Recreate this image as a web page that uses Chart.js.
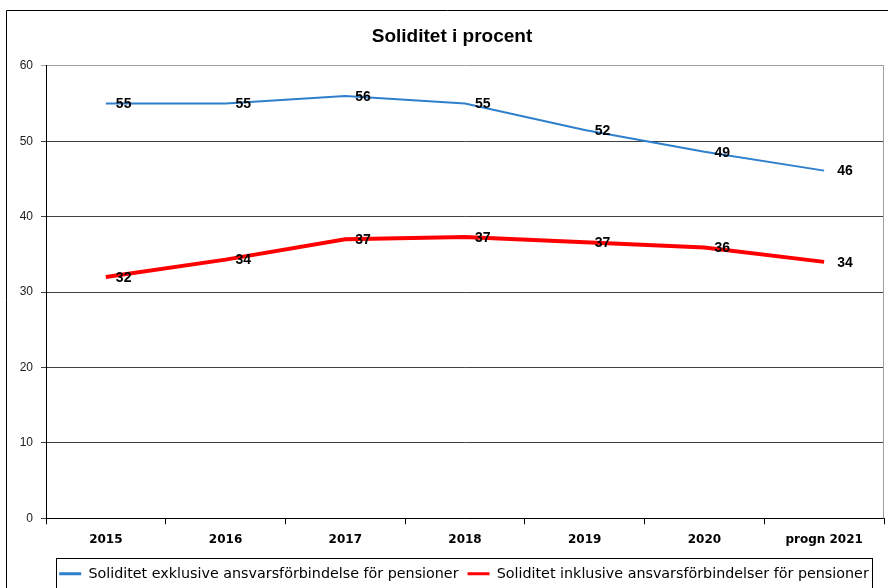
<!DOCTYPE html>
<html>
<head>
<meta charset="utf-8">
<script src="https://cdn.jsdelivr.net/npm/chart.js@4.4.1/dist/chart.umd.min.js"></script>
<style>
html,body{margin:0;padding:0;background:#fff;}
#wrap{position:absolute;left:0;top:0;width:888px;height:588px;}
</style>
</head>
<body>
<div id="wrap"><canvas id="c" width="888" height="588"></canvas></div>
<script>
const categories = ['2015','2016','2017','2018','2019','2020','progn 2021'];
const exklusive = [55.0, 55.0, 56.0, 55.0, 51.5, 48.6, 46.1];
const inklusive = [32.0, 34.3, 37.0, 37.3, 36.6, 35.9, 34.0];
const seriesNames = ['Soliditet exklusive ansvarsförbindelse för pensioner','Soliditet inklusive ansvarsförbindelser för pensioner'];
const yTicks = [0,10,20,30,40,50,60];
const titleText = 'Soliditet i procent';

const FONT = "'Liberation Sans', Arial, sans-serif";
const WIDE = "'DejaVu Sans', Verdana, sans-serif";

const framePlugin = {
  id:'frame',
  afterLayout(chart){
    const L = chart.legend;
    if (L) { L.left += 12; L.right += 12; }
  },
  beforeDraw(chart){
    const ctx = chart.ctx;
    ctx.save();
    ctx.fillStyle='#fff';
    ctx.fillRect(0,0,chart.width,chart.height);
    ctx.strokeStyle='#000';
    ctx.lineWidth=1;
    ctx.beginPath();
    ctx.moveTo(6.5, chart.height+5);
    ctx.lineTo(6.5, 10.5);
    ctx.lineTo(chart.width+5, 10.5);
    ctx.stroke();
    ctx.restore();
  },
  afterDatasetsDraw(chart){
    const ctx = chart.ctx;
    const a = chart.chartArea;
    ctx.save();
    ctx.strokeStyle='#a0a0a0';
    ctx.lineWidth=1;
    ctx.beginPath();
    ctx.moveTo(Math.round(a.right)-0.5, a.top);
    ctx.lineTo(Math.round(a.right)-0.5, a.bottom);
    ctx.stroke();
    // data labels
    ctx.font = "bold 14px " + FONT;
    ctx.fillStyle = '#000';
    ctx.textAlign = 'left';
    ctx.textBaseline = 'middle';
    chart.data.datasets.forEach((ds, i) => {
      const meta = chart.getDatasetMeta(i);
      meta.data.forEach((pt, j) => {
        const v = ds.data[j];
        const dx = (j === ds.data.length-1) ? 13 : 10;
        ctx.fillText(String(Math.round(v)), pt.x + dx, pt.y + 1);
      });
    });
    // legend frame
    const L = chart.legend;
    if (L) {
      ctx.strokeStyle='#000';
      ctx.lineWidth=1;
      ctx.strokeRect(56.5, 558.5, 816, 40);
    }
    ctx.restore();
  }
};

new Chart(document.getElementById('c'), {
  type:'line',
  data:{
    labels: categories,
    datasets:[
      {label: seriesNames[0], data: exklusive, borderColor:'#2E7FCC', backgroundColor:'#2E7FCC', borderWidth:2, pointRadius:0, tension:0, fill:false},
      {label: seriesNames[1], data: inklusive, borderColor:'#FF0000', backgroundColor:'#FF0000', borderWidth:4, pointRadius:0, tension:0, fill:false}
    ]
  },
  options:{
    responsive:false,
    animation:false,
    devicePixelRatio:1,
    layout:{padding:{left:20,right:4,top:0,bottom:-3}},
    plugins:{
      title:{display:true,text:titleText,color:'#000',font:{family:FONT,size:19,weight:'bold'},padding:{top:25,bottom:18}},
      legend:{
        position:'bottom',
        labels:{
          color:'#000',
          font:{family:WIDE,size:14.3},
          boxWidth:22,
          boxHeight:3,
          padding:9,
          generateLabels(chart){
            return chart.data.datasets.map((ds,i)=>({text:ds.label,fillStyle:ds.borderColor,strokeStyle:ds.borderColor,lineWidth:0,hidden:false,datasetIndex:i,fontColor:'#000'}));
          }
        }
      },
      tooltip:{enabled:false}
    },
    scales:{
      x:{
        offset:true,
        afterFit(s){ s.height += 3; },
        grid:{offset:true,drawOnChartArea:false,drawTicks:true,tickLength:6,color:'#000'},
        border:{color:'#000',width:1},
        ticks:{color:'#000',font:{family:WIDE,size:12,weight:'bold'},padding:8,maxRotation:0,autoSkip:false}
      },
      y:{
        min:0,max:60,
        afterBuildTicks(s){ s.ticks = yTicks.map(v=>({value:v})); },
        afterFit(s){ s.width = 26; },
        grid:{color:(c)=> c.tick && c.tick.value===60 ? '#a0a0a0' : '#404040', tickLength:5, drawTicks:true},
        border:{color:'#000',width:1},
        ticks:{color:'#222',font:{family:FONT,size:12},padding:8}
      }
    }
  },
  plugins:[framePlugin]
});
</script>
</body>
</html>
